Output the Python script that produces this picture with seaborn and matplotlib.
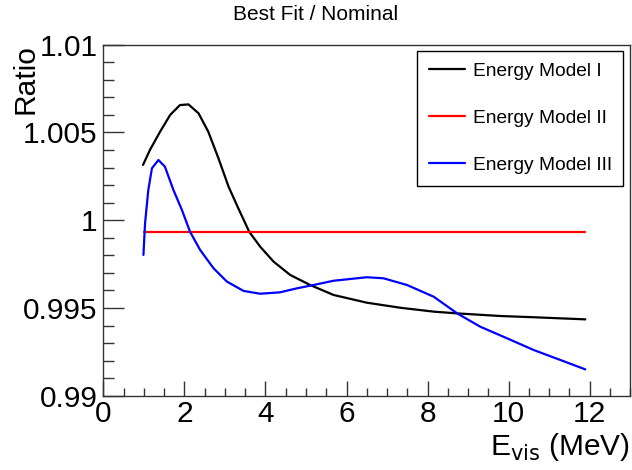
import numpy as np
import pandas as pd
import matplotlib
matplotlib.use("Agg")
import matplotlib.pyplot as plt
from matplotlib.ticker import MultipleLocator
import seaborn as sns

# Ratio of best-fit to nominal spectrum for three energy models
e_model1 = [0.98, 1.15, 1.40, 1.65, 1.89, 2.10, 2.35, 2.59, 2.84, 3.09, 3.33,
            3.60, 3.87, 4.20, 4.61, 5.10, 5.68, 6.50, 7.33, 8.15, 8.73, 9.80,
            10.62, 11.89]
r_model1 = [1.00315, 1.0040, 1.00504, 1.0060, 1.00656, 1.0066, 1.00609,
            1.00504, 1.00353, 1.00191, 1.00068, 0.99934, 0.99849, 0.99764,
            0.99688, 0.99631, 0.99574, 0.9953, 0.99501, 0.99479, 0.99469,
            0.99454, 0.99447, 0.99435]

e_model2 = [1.0, 11.89]
r_model2 = [0.99931, 0.99931]

e_model3 = [0.99, 1.03, 1.11, 1.20, 1.36, 1.52, 1.73, 1.94, 2.14, 2.39, 2.72,
            3.05, 3.46, 3.87, 4.36, 4.78, 5.19, 5.68, 6.50, 6.91, 7.49, 8.15,
            8.73, 9.30, 9.96, 10.62, 11.28, 11.89]
r_model3 = [0.99802, 0.99982, 1.00172, 1.00296, 1.00343, 1.00305, 1.00172,
            1.00058, 0.99934, 0.9983, 0.99726, 0.9965, 0.99597, 0.99581,
            0.99589, 0.99612, 0.99631, 0.99655, 0.99675, 0.99669, 0.99631,
            0.99564, 0.99469, 0.99393, 0.99327, 0.9926, 0.99203, 0.9915]

labels = ["Energy Model I", "Energy Model II", "Energy Model III"]
colors = ["black", "red", "blue"]

x_ticks = [0, 2, 4, 6, 8, 10, 12]
x_ticklabels = ["0", "2", "4", "6", "8", "10", "12"]
y_ticks = [0.99, 0.995, 1.0, 1.005, 1.01]
y_ticklabels = ["0.99", "0.995", "1", "1.005", "1.01"]

sns.set_style("ticks")
plt.rcParams["font.family"] = ["Liberation Sans", "DejaVu Sans"]
plt.rcParams.update({"text.color": "black", "axes.labelcolor": "black",
                     "xtick.labelcolor": "black", "ytick.labelcolor": "black"})

fig = plt.figure(figsize=(6.32, 4.70), dpi=100)
ax = fig.add_axes([103.3 / 632, 1 - 395.7 / 470, (630.3 - 103.3) / 632,
                   (395.7 - 44.7) / 470])

for e, r, lab, col in zip([e_model1, e_model2, e_model3],
                          [r_model1, r_model2, r_model3], labels, colors):
    df = pd.DataFrame({"E": e, "ratio": r})
    sns.lineplot(data=df, x="E", y="ratio", color=col, lw=1.6, label=lab,
                 ax=ax, sort=False)

ax.set_xlim(0, 13)
ax.set_ylim(0.99, 1.01)
ax.set_xticks(x_ticks)
ax.set_xticklabels(x_ticklabels)
ax.set_yticks(y_ticks)
ax.set_yticklabels(y_ticklabels)
ax.xaxis.set_minor_locator(MultipleLocator(0.5))
ax.yaxis.set_minor_locator(MultipleLocator(0.001))

ax.tick_params(axis="both", which="both", direction="in", color="#333333",
               width=1.0)
ax.tick_params(axis="y", which="major", length=15, labelsize=21.5, pad=4)
ax.tick_params(axis="y", which="minor", length=8)
ax.tick_params(axis="x", which="major", length=11, labelsize=21.5, pad=3)
ax.tick_params(axis="x", which="minor", length=6)
for s in ax.spines.values():
    s.set_color("#333333")
    s.set_linewidth(1.0)

ax.set_xlabel("E$_{\\mathrm{vis}}$ (MeV)", fontsize=21.5, loc="right",
              labelpad=2)
ax.set_ylabel("")
fig.text(25 / 632, 1 - 44 / 470, "Ratio", rotation=90, ha="center",
         va="top", fontsize=21.5)

fig.text(0.5, 1 - 15 / 470, "Best Fit / Nominal", ha="center", va="center",
         fontsize=15)

leg = ax.legend(loc="upper right", bbox_to_anchor=(623.3 / 632, 1 - 51 / 470),
                bbox_transform=fig.transFigure, fontsize=13.8, frameon=True,
                fancybox=False, edgecolor="black", framealpha=1,
                handlelength=1.9, labelspacing=1.55, borderpad=0.6,
                handletextpad=0.4, borderaxespad=0)
leg.get_frame().set_linewidth(1.0)

fig.savefig("out.png", dpi=100)
